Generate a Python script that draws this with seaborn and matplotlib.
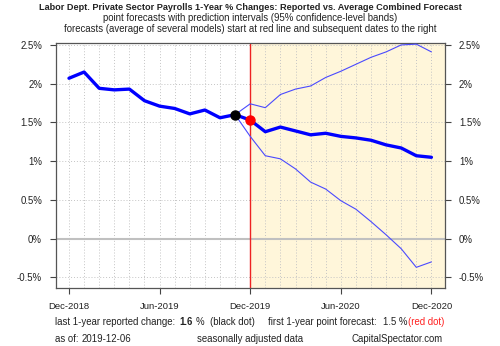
import numpy as np
import pandas as pd
import matplotlib
matplotlib.use("Agg")
import matplotlib.pyplot as plt
import seaborn as sns

# ---- data ----
months = pd.date_range("2018-12-01", periods=25, freq="MS").strftime("%b-%Y").tolist()
reported = [2.07, 2.15, 1.94, 1.92, 1.93, 1.78, 1.71, 1.68, 1.61, 1.66, 1.56, 1.60]
forecast = [1.53, 1.38, 1.44, 1.39, 1.34, 1.36, 1.32, 1.30, 1.27, 1.21, 1.17, 1.07, 1.05]
upper = [1.74, 1.69, 1.86, 1.93, 1.97, 2.08, 2.16, 2.25, 2.34, 2.41, 2.50, 2.51, 2.41]
lower = [1.32, 1.07, 1.03, 0.90, 0.73, 0.64, 0.49, 0.38, 0.22, 0.05, -0.13, -0.37, -0.30]
ytick_vals = [-0.5, 0, 0.5, 1, 1.5, 2, 2.5]
ytick_labels = ["-0.5%", "0%", "0.5%", "1%", "1.5%", "2%", "2.5%"]
xtick_labels = ["Dec-2018", "Jun-2019", "Dec-2019", "Jun-2020", "Dec-2020"]

sns.set_style("white")
plt.rcParams["font.family"] = ["Liberation Sans", "DejaVu Sans"]

n_hist = len(reported)
x_hist = list(range(n_hist))
start = n_hist - 1  # forecast line starts from last reported point
x_fc = list(range(start, start + len(forecast) + 1))
last = reported[-1]

hist_df = pd.DataFrame({"x": x_hist, "y": reported})
fc_df = pd.DataFrame({"x": x_fc, "y": [last] + forecast})
up_df = pd.DataFrame({"x": x_fc, "y": [last] + upper})
lo_df = pd.DataFrame({"x": x_fc, "y": [last] + lower})

fig = plt.figure(figsize=(5.0, 3.46), dpi=100)
ax = fig.add_axes([0.112, 0.168, 0.778, 0.708])

xmin, xmax = -0.86, 24.9
fc_start = n_hist  # Dec-2019 index
ax.axvspan(fc_start, xmax, color="#FFF6DA", zorder=0, lw=0)

# grid
for xi in range(len(months)):
    ax.axvline(xi, color="#C4C4C4", lw=0.7, ls=(0, (1, 2)), zorder=1)
for yv in ytick_vals:
    ax.axhline(yv, color="#C4C4C4", lw=0.7, ls=(0, (1, 2)), zorder=1)
ax.axhline(0, color="#C0C0C0", lw=1.5, zorder=1)
ax.axvline(fc_start, color="#EE2222", lw=1.0, zorder=2)

sns.lineplot(data=up_df, x="x", y="y", ax=ax, color="#4A4AFF", lw=0.8, zorder=3)
sns.lineplot(data=lo_df, x="x", y="y", ax=ax, color="#4A4AFF", lw=0.8, zorder=3)
sns.lineplot(data=hist_df, x="x", y="y", ax=ax, color="#0000FF", lw=2.4, zorder=4)
sns.lineplot(data=fc_df, x="x", y="y", ax=ax, color="#0000FF", lw=2.4, zorder=4)
ax.plot([x_hist[-1]], [last], "o", color="black", ms=6.5, zorder=5)
ax.plot([fc_start], [forecast[0]], "o", color="red", ms=6.5, zorder=5)

ax.set_xlim(xmin, xmax)
ax.set_ylim(-0.635, 2.526)
ax.set_xlabel("")
ax.set_ylabel("")
ax.set_xticks([0, 6, 12, 18, 24])
ax.set_xticklabels(xtick_labels, fontsize=6.8)
ax.set_yticks(ytick_vals)
ax.set_yticklabels(ytick_labels, fontsize=6.9)
ax.tick_params(axis="both", which="both", direction="out", length=4, width=0.8,
               color="#444444", labelcolor="#222222", pad=6)
ax.tick_params(axis="y", left=True, right=True, labelleft=True, labelright=True)
ax.tick_params(axis="x", bottom=True)
for s in ax.spines.values():
    s.set_color("#555555")
    s.set_linewidth(0.9)

# titles
fig.text(0.5, 1 - 7 / 346, "Labor Dept. Private Sector Payrolls 1-Year % Changes: Reported vs. Average Combined Forecast",
         ha="center", va="center", fontsize=6.55, fontweight="bold", color="#222222")
fig.text(0.5, 1 - 18 / 346, "point forecasts with prediction intervals (95% confidence-level bands)",
         ha="center", va="center", fontsize=6.9, color="#222222")
fig.text(0.5, 1 - 29 / 346, "forecasts (average of several models) start at red line and subsequent dates to the right",
         ha="center", va="center", fontsize=6.9, color="#222222")

# bottom notes
y1 = 1 - 322 / 346
y2 = 1 - 339 / 346
fs = 6.95
fig.text(55 / 500, y1, "last 1-year reported change:", va="center", fontsize=fs, color="#222222")
fig.text(179 / 500, y1, f"{last:.1f}", va="center", fontsize=fs, fontweight="bold", color="#222222")
fig.text(196 / 500, y1, "%", va="center", fontsize=fs, color="#222222")
fig.text(210 / 500, y1, "(black dot)", va="center", fontsize=fs, color="#222222")
fig.text(268 / 500, y1, "first 1-year point forecast:", va="center", fontsize=fs, color="#222222")
fig.text(383 / 500, y1, f"{forecast[0]:.1f} %", va="center", fontsize=fs, color="#222222")
fig.text(408 / 500, y1, "(red dot)", va="center", fontsize=fs, color="#FF2020")
fig.text(55 / 500, y2, "as of:", va="center", fontsize=fs, color="#222222")
fig.text(82 / 500, y2, "2019-12-06", va="center", fontsize=fs, color="#222222")
fig.text(197 / 500, y2, "seasonally adjusted data", va="center", fontsize=fs, color="#222222")
fig.text(443 / 500, y2, "CapitalSpectator.com", va="center", ha="right", fontsize=fs, color="#222222")

fig.savefig("out.png", dpi=100)
